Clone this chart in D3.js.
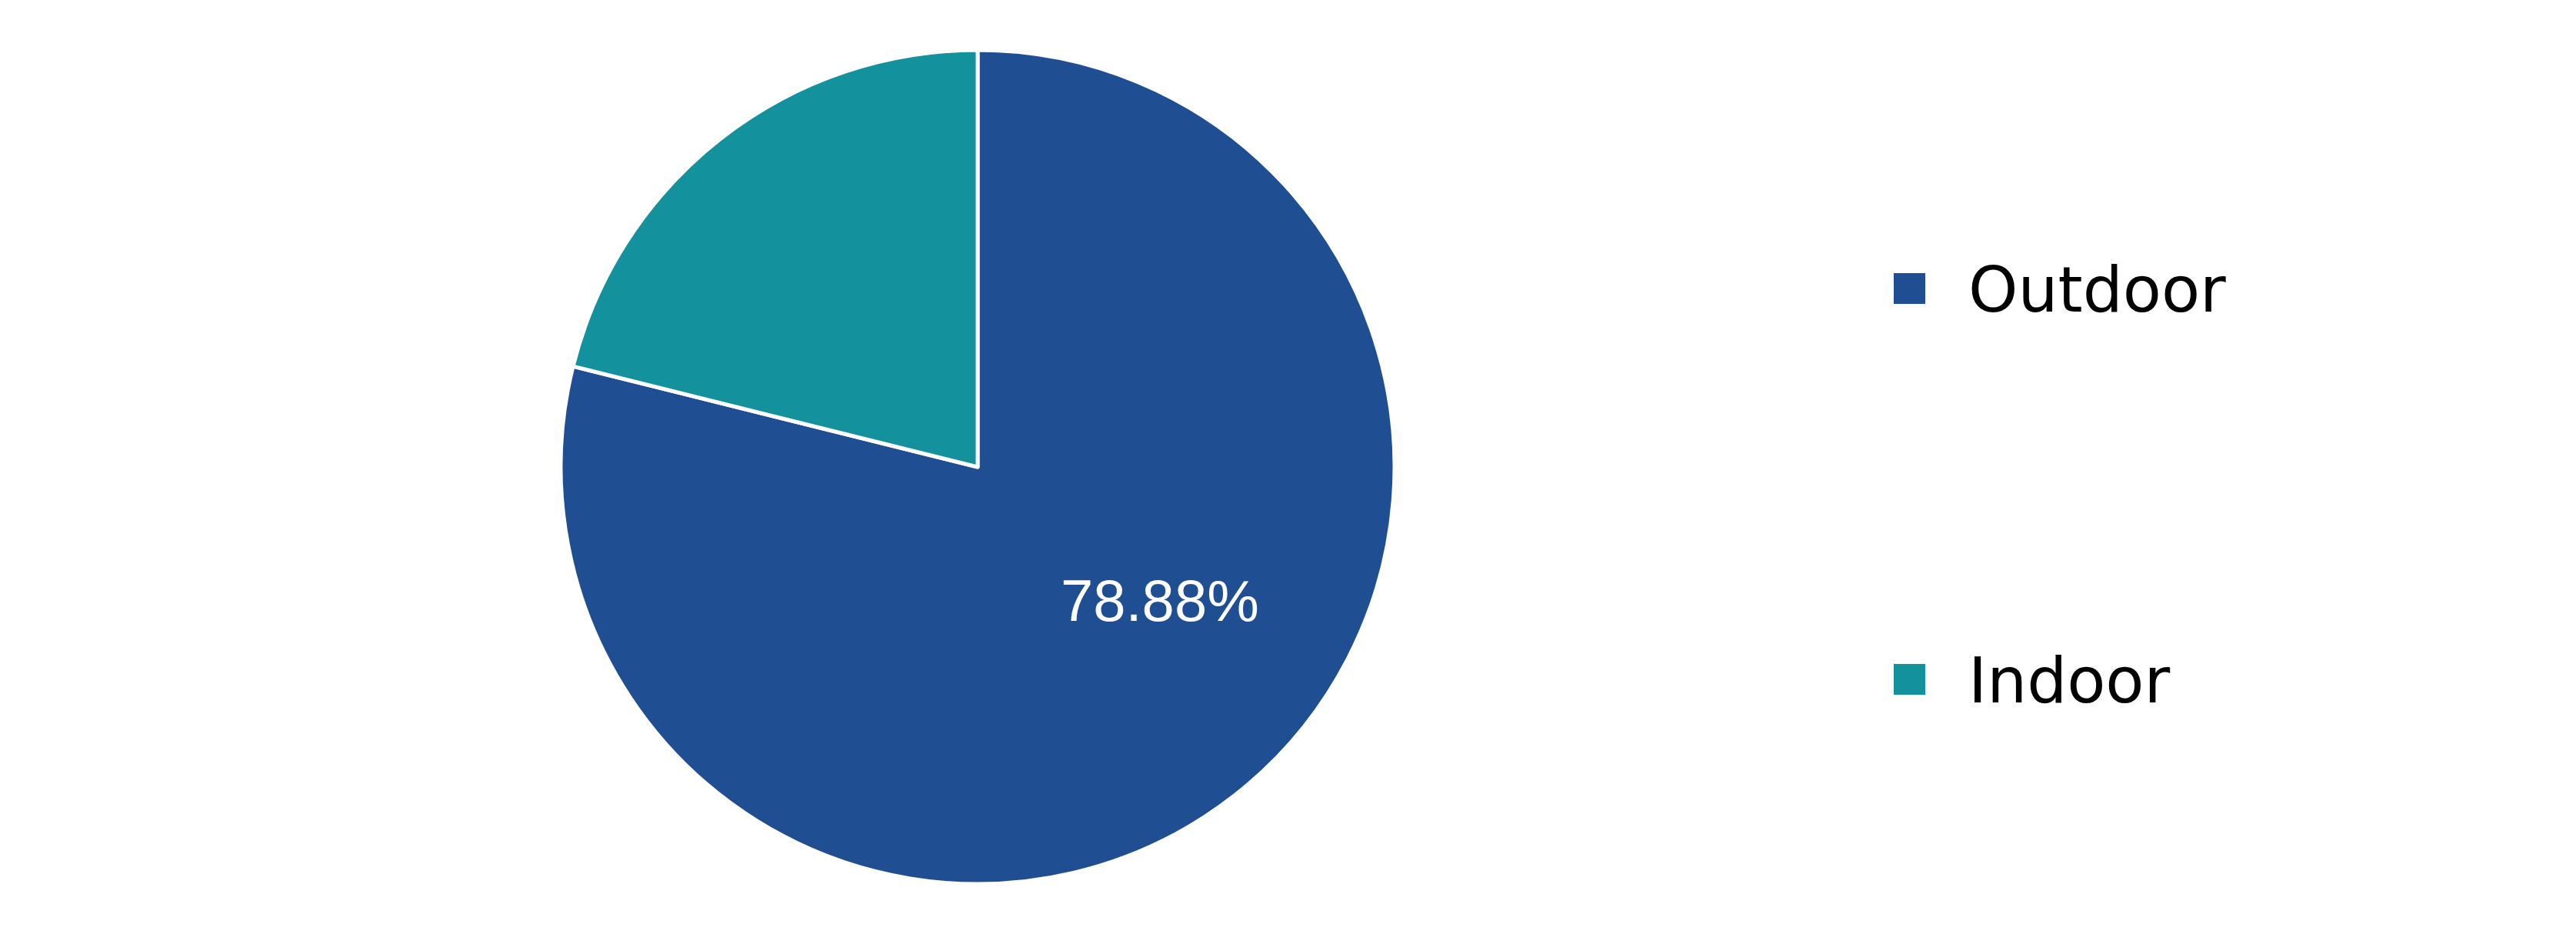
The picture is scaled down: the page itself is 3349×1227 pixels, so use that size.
<!DOCTYPE html>
<html><head><meta charset="utf-8">
<script src="https://cdn.jsdelivr.net/npm/d3@7"></script>
<style>html,body{margin:0;padding:0;background:#fff;}</style>
</head><body><svg id="c" width="3349" height="1227"></svg>
<script>
const categories = ["Outdoor", "Indoor"];
const values = [78.88, 21.12];
const colors = ["#1f4f92", "#13929e"];
const labelText = ["78.88%", ""];

const svg = d3.select("#c");
const cx = 1271, cy = 607, R = 542;
const g = svg.append("g").attr("transform", `translate(${cx},${cy})`);
const pie = d3.pie().sort(null).value(d => d.v);
const data = pie(categories.map((c, i) => ({c, v: values[i], col: colors[i], lab: labelText[i]})));
const arc = d3.arc().innerRadius(0).outerRadius(R);
g.selectAll("path").data(data).enter().append("path")
  .attr("d", arc).attr("fill", d => d.data.col)
  .attr("stroke", "#fff").attr("stroke-width", 5).attr("stroke-linejoin", "round");

// label
g.selectAll("text.lab").data(data.filter(d => d.data.lab)).enter().append("text")
  .attr("class", "lab")
  .attr("x", R * 0.437).attr("y", R * 0.32)
  .attr("text-anchor", "middle").attr("dominant-baseline", "central")
  .attr("fill", "#fff").attr("font-family", "Liberation Sans, Arial, sans-serif")
  .attr("font-size", 76).text(d => d.data.lab);

// legend
const ly = d3.scalePoint().domain(categories).range([375, 883]);
const lg = svg.append("g");
categories.forEach((c, i) => {
  lg.append("rect").attr("x", 2462).attr("y", ly(c) - 20).attr("width", 41).attr("height", 40).attr("fill", colors[i]);
  lg.append("text").attr("x", 2559).attr("y", ly(c) + 30)
    .attr("font-family", "DejaVu Sans, Verdana, sans-serif").attr("font-size", 82)
    .attr("fill", "#000").text(c);
});
</script></body></html>
